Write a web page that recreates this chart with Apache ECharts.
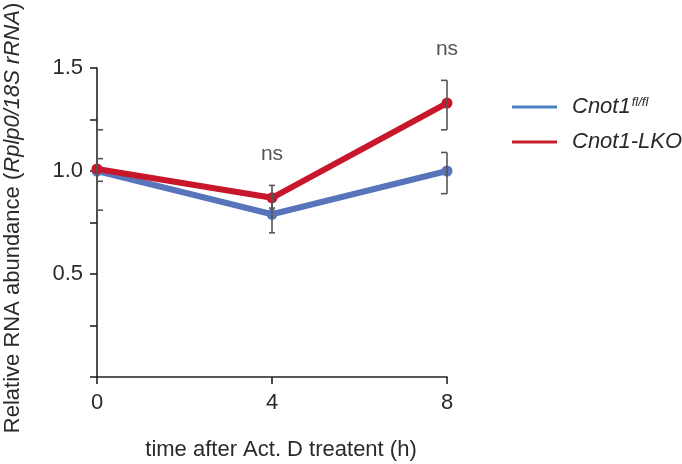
<!DOCTYPE html>
<html>
<head>
<meta charset="utf-8">
<script src="https://cdn.jsdelivr.net/npm/echarts@6/dist/echarts.min.js"></script>
<style>html,body{margin:0;padding:0;background:#fff}#c{width:682px;height:464px}</style>
</head>
<body>
<div id="c"></div>
<script>
var timePoints = [0, 4, 8];
var flflMean = [1.00, 0.79, 1.00];
var flflLow = [0.81, 0.70, 0.89];
var flflHigh = [1.20, 0.88, 1.09];
var lkoMean = [1.01, 0.87, 1.33];
var lkoLow = [0.95, 0.82, 1.20];
var lkoHigh = [1.06, 0.93, 1.44];
var nsX = [4, 8];
var nsY = [1.08, 1.59];
var nsText = ['ns', 'ns'];
var yTicks = [0.5, 1.0, 1.5];

var FONT = 'Liberation Sans, Arial, sans-serif';
var TXT = '#2a2a2a';
var chart = echarts.init(document.getElementById('c'));

function pairs(xs, ys) { return xs.map(function (x, i) { return [x, ys[i]]; }); }
function errData(lo, hi) { return timePoints.map(function (x, i) { return [x, lo[i], hi[i]]; }); }

function errRender(params, api) {
  var x = api.value(0);
  var lo = api.coord([x, api.value(1)]);
  var hi = api.coord([x, api.value(2)]);
  var cap = 6;
  var idx = params.dataIndex;
  var l = idx === timePoints.length - 1 ? -cap : (idx === 0 ? 0 : -cap / 2);
  var r = idx === 0 ? cap : (idx === timePoints.length - 1 ? 0 : cap / 2);
  var style = { stroke: '#555', lineWidth: 1.6, fill: null };
  return {
    type: 'group',
    children: [
      { type: 'line', shape: { x1: lo[0], y1: lo[1], x2: hi[0], y2: hi[1] }, style: style },
      { type: 'line', shape: { x1: lo[0] + l, y1: lo[1], x2: lo[0] + r, y2: lo[1] }, style: style },
      { type: 'line', shape: { x1: hi[0] + l, y1: hi[1], x2: hi[0] + r, y2: hi[1] }, style: style }
    ]
  };
}

var blue = '#5874bb';
var red = '#c8162b';

chart.setOption({
  animation: false,
  backgroundColor: '#fff',
  grid: { left: 97, right: 235, top: 68, bottom: 87, outerBoundsMode: 'none', containLabel: false },
  legend: {
    orient: 'vertical',
    left: 512,
    top: 96,
    padding: 0,
    itemWidth: 45,
    itemHeight: 3,
    itemGap: 12,
    icon: 'rect',
    data: [
      { name: 'Cnot1fl/fl', itemStyle: { color: '#4a80c4' } },
      { name: 'Cnot1-LKO', itemStyle: { color: '#c81e2c' } }
    ],
    formatter: function (n) {
      return n === 'Cnot1fl/fl' ? '{a|Cnot1}{b|fl/fl}' : '{a|Cnot1-LKO}';
    },
    textStyle: {
      padding: [0, 0, 0, 10],
      rich: {
        a: { fontFamily: FONT, fontStyle: 'italic', fontSize: 22, color: TXT, lineHeight: 22 },
        b: { fontFamily: FONT, fontStyle: 'italic', fontSize: 13, color: TXT, verticalAlign: 'top', lineHeight: 22, padding: [0, 0, 10, 1] }
      }
    }
  },
  xAxis: {
    type: 'value', min: 0, max: 8, interval: 4,
    name: 'time after Act. D treatent (h)',
    nameLocation: 'middle', nameGap: 62,
    nameTextStyle: { fontFamily: FONT, fontSize: 22, color: TXT, padding: [0, 0, 0, 18] },
    axisLine: { lineStyle: { color: '#222', width: 1.6 } },
    axisTick: { show: true, length: 7, lineStyle: { color: '#222', width: 1.6 } },
    axisLabel: { fontFamily: FONT, fontSize: 22, color: TXT, margin: 15 },
    splitLine: { show: false }
  },
  yAxis: {
    type: 'value', min: 0, max: 1.5, interval: 0.5,
    name: 'Relative RNA abundance ({i|Rplp0/18S rRNA})',
    nameLocation: 'middle', nameGap: 73,
    nameTextStyle: {
      fontFamily: FONT, fontSize: 22, color: TXT, padding: [0, 0, 0, 9],
      rich: { i: { fontFamily: FONT, fontSize: 22, fontStyle: 'italic', color: TXT } }
    },
    axisLine: { show: true, lineStyle: { color: '#222', width: 1.6 } },
    axisTick: { show: true, length: 7, lineStyle: { color: '#222', width: 1.6 } },
    minorTick: { show: true, splitNumber: 2, length: 7, lineStyle: { color: '#222', width: 1.6 } },
    axisLabel: {
      fontFamily: FONT, fontSize: 22, color: TXT, margin: 14,
      formatter: function (v) { return yTicks.indexOf(v) >= 0 ? v.toFixed(1) : ''; }
    },
    splitLine: { show: false }
  },
  series: [
    {
      name: 'Cnot1fl/fl', type: 'line', data: pairs(timePoints, flflMean),
      color: blue,
      lineStyle: { color: blue, width: 6 }, itemStyle: { color: blue },
      symbol: 'circle', symbolSize: 11, z: 3
    },
    {
      name: 'Cnot1-LKO', type: 'line', data: pairs(timePoints, lkoMean),
      color: red,
      lineStyle: { color: red, width: 6 }, itemStyle: { color: red },
      symbol: 'circle', symbolSize: 11, z: 4
    },
    { type: 'custom', renderItem: errRender, data: errData(flflLow, flflHigh), z: 5, silent: true },
    { type: 'custom', renderItem: errRender, data: errData(lkoLow, lkoHigh), z: 5, silent: true },
    {
      type: 'scatter', data: pairs(nsX, nsY), symbolSize: 0, clip: false, silent: true,
      label: {
        show: true, position: 'inside', fontFamily: FONT, fontSize: 21, color: TXT,
        formatter: function (p) { return nsText[p.dataIndex]; }
      }
    }
  ]
});
</script>
</body>
</html>
